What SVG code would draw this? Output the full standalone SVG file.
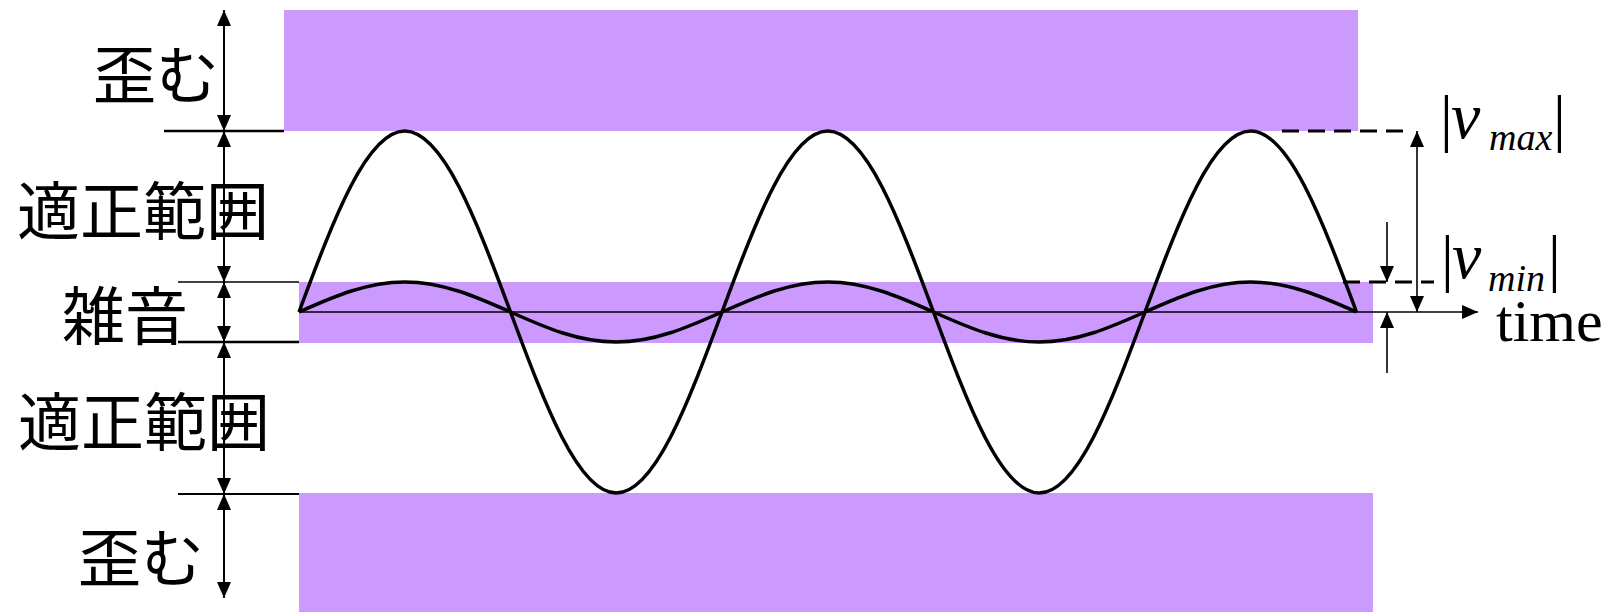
<svg xmlns="http://www.w3.org/2000/svg" width="1612" height="612" viewBox="0 0 1612 612">
<style>
.band{fill:#CC99FF;stroke:none}
.jp{font-family:"Noto Sans CJK JP","Noto Sans CJK SC",sans-serif;font-size:63px;fill:#000}
.ser{font-family:"Liberation Serif","Times New Roman",serif;fill:#000}
.it{font-style:italic}
.wave{fill:none;stroke:#000;stroke-width:3.5;stroke-linejoin:round}
.tick{stroke:#000;fill:none}
.arr{stroke:#000;stroke-width:2;fill:none;marker-start:url(#ah);marker-end:url(#ah)}
.arr1{stroke:#000;stroke-width:1.6;fill:none;marker-end:url(#ah)}
.arr2{stroke:#000;stroke-width:1.6;fill:none;marker-start:url(#ah);marker-end:url(#ah)}
.dash{stroke:#000;stroke-width:3;fill:none;stroke-dasharray:17 9}
</style>
<defs>
<marker id="ah" viewBox="0 0 16 14" refX="16" refY="7" markerWidth="16" markerHeight="14" markerUnits="userSpaceOnUse" orient="auto-start-reverse"><path d="M0,0L16,7L0,14z" fill="#000"/></marker>
</defs>
<g id="band-distort-top"><rect class="band" x="284" y="10" width="1074" height="121"/></g>
<g id="band-noise"><rect class="band" x="299" y="282" width="1074" height="61"/></g>
<g id="band-distort-bottom"><rect class="band" x="299" y="493" width="1074" height="119"/></g>
<g id="wave-large"><path class="wave" d="M299,312c34.49,-92.72 67.65,-181 105.75,-181c38.1,0 71.26,88.28 105.75,181c34.490,92.72 67.65,181 105.75,181c38.1,0 71.26,-88.28 105.75,-181c34.49,-92.72 67.65,-181 105.75,-181c38.1,0 71.26,88.28 105.75,181c34.49,92.72 67.65,181 105.75,181c38.1,0 71.26,-88.28 105.75,-181c34.49,-92.72 67.65,-181 105.75,-181c38.1,0 71.26,88.28 105.75,181"/></g>
<g id="wave-small"><path class="wave" d="M299,312c34.49,-15.37 67.65,-30 105.75,-30c38.1,0 71.26,14.63 105.75,30c34.49,15.37 67.65,30 105.75,30c38.1,0 71.26,-14.63 105.75,-30c34.49,-15.37 67.65,-30 105.75,-30c38.1,0 71.26,14.63 105.75,30c34.49,15.37 67.65,30 105.75,30c38.1,0 71.26,-14.63 105.75,-30c34.49,-15.37 67.65,-30 105.75,-30c38.1,0 71.26,14.63 105.75,30"/></g>
<g id="connectors">
<line class="tick" x1="164" y1="131" x2="284" y2="131" stroke-width="2.5"/>
<line class="tick" x1="178" y1="282" x2="299" y2="282" stroke-width="1.3"/>
<line class="tick" x1="178" y1="342" x2="299" y2="342" stroke-width="2.5"/>
<line class="tick" x1="178" y1="494" x2="299" y2="494" stroke-width="2"/>
<line class="arr" x1="224" y1="10" x2="224" y2="131"/>
<line class="arr" x1="224" y1="131" x2="224" y2="282"/>
<line class="arr" x1="224" y1="282" x2="224" y2="342"/>
<line class="arr" x1="224" y1="342" x2="224" y2="494"/>
<line class="arr" x1="224" y1="494" x2="224" y2="598"/>
<line class="arr1" x1="299" y1="312" x2="1478" y2="312"/>
<line class="dash" x1="1282" y1="131" x2="1410" y2="131"/>
<line class="dash" x1="1343" y1="282" x2="1434" y2="282"/>
<line class="arr2" x1="1417" y1="131" x2="1417" y2="312"/>
<line class="arr1" x1="1387" y1="222" x2="1387" y2="282"/>
<line class="arr1" x1="1387" y1="373" x2="1387" y2="312"/>
</g>
<g id="label-distort-top"><text class="jp" x="93" y="98">歪む</text></g>
<g id="label-proper-top"><text class="jp" x="17" y="234">適正範囲</text></g>
<g id="label-noise"><text class="jp" x="62" y="339">雑音</text></g>
<g id="label-proper-bottom"><text class="jp" x="18" y="445">適正範囲</text></g>
<g id="label-distort-bottom"><text class="jp" x="78" y="581">歪む</text></g>
<g id="label-vmax"><text class="ser"><tspan x="1440" y="139" font-size="64">|</tspan><tspan class="it" x="1451" y="138" font-size="66">v</tspan><tspan class="it" x="1489" y="150" font-size="38">max</tspan><tspan x="1553" y="139" font-size="64">|</tspan></text></g>
<g id="label-vmin"><text class="ser"><tspan x="1441" y="279" font-size="64">|</tspan><tspan class="it" x="1452" y="278" font-size="66">v</tspan><tspan class="it" x="1488" y="291" font-size="38">min</tspan><tspan x="1548" y="279" font-size="64">|</tspan></text></g>
<g id="label-time"><text class="ser" x="1496" y="341" font-size="60">time</text></g>
</svg>
